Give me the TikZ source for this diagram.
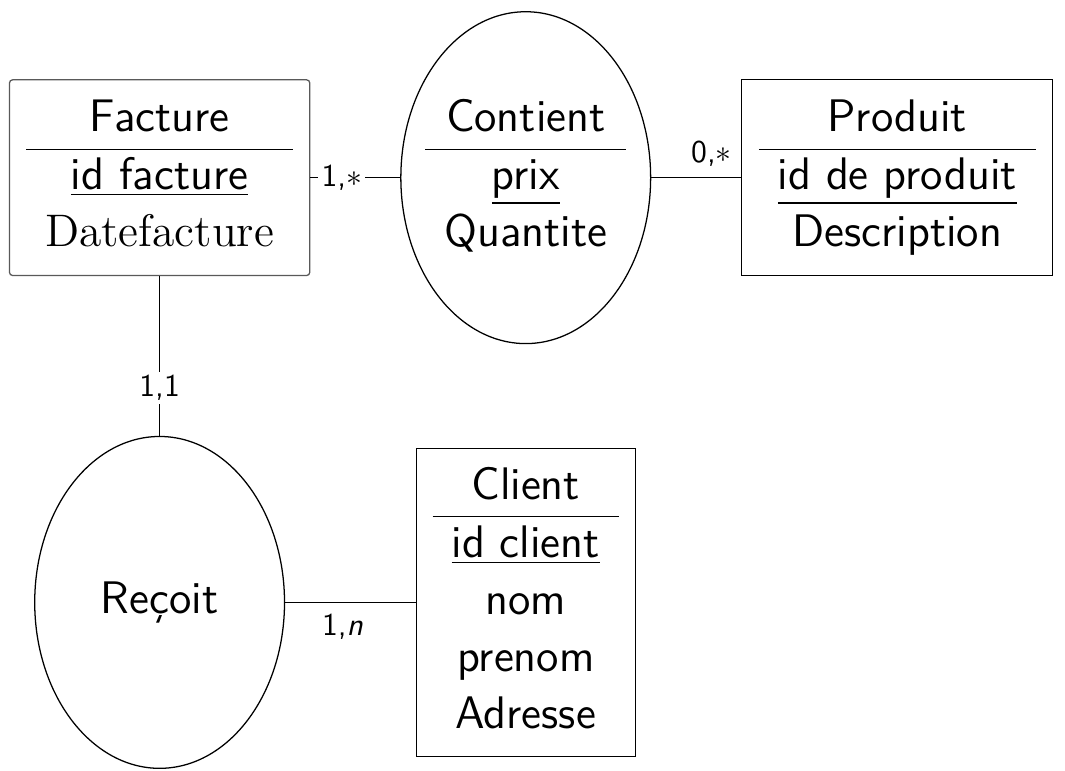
\documentclass[tikz,border=0pt]{standalone}
\usepackage{fontspec}
\usetikzlibrary{shapes.geometric}

\tikzset{
  entite/.style={draw, font=\sffamily\Large, minimum height=2.17cm},
  relation/.style={draw, ellipse, font=\sffamily\Large, inner xsep=-5pt, minimum width=2.77cm, minimum height=3.68cm},
  card/.style={font=\sffamily},
  surlien/.style={card, fill=white, inner sep=1pt},
}

\begin{document}
\begin{tikzpicture}
  \useasboundingbox (0,0) rectangle (11.81,-8.54);
  \def\yhaut{-1.97} % ligne du haut
  \def\ybas{-6.68}  % ligne du bas

  % entites
  \node[entite, draw=black!65, rounded corners=1pt, minimum width=3.33cm] (facture) at (1.77,\yhaut)
    {\begin{tabular}{c} Facture \\ \hline \underline{id facture} \\ {\rmfamily Datefacture} \end{tabular}};
  \node[entite, minimum width=3.45cm] (produit) at (9.95,\yhaut)
    {\begin{tabular}{c} Produit \\ \hline \underline{id de produit} \\ Description \end{tabular}};
  \node[entite, minimum width=2.43cm, minimum height=3.42cm] (client) at (5.83,\ybas)
    {\begin{tabular}{c} Client \\ \hline \underline{id client} \\ nom \\ prenom \\ Adresse \end{tabular}};

  % associations
  \node[relation] (contient) at (5.83,\yhaut)
    {\begin{tabular}{c} Contient \\ \hline \underline{prix} \\ Quantite \end{tabular}};
  \node[relation] (recoit) at (1.77,\ybas) {Reçoit};

  % liens et cardinalites
  \draw (facture) -- node[surlien, pos=0.35] {1,$*$} (contient);
  \draw (contient) -- node[card, above, pos=0.67] {0,$*$} (produit);
  \draw (facture) -- node[surlien, pos=0.7] {1,1} (recoit);
  \draw (recoit) -- node[card, below, pos=0.44] {1,\textit{n}} (client);
\end{tikzpicture}
\end{document}
